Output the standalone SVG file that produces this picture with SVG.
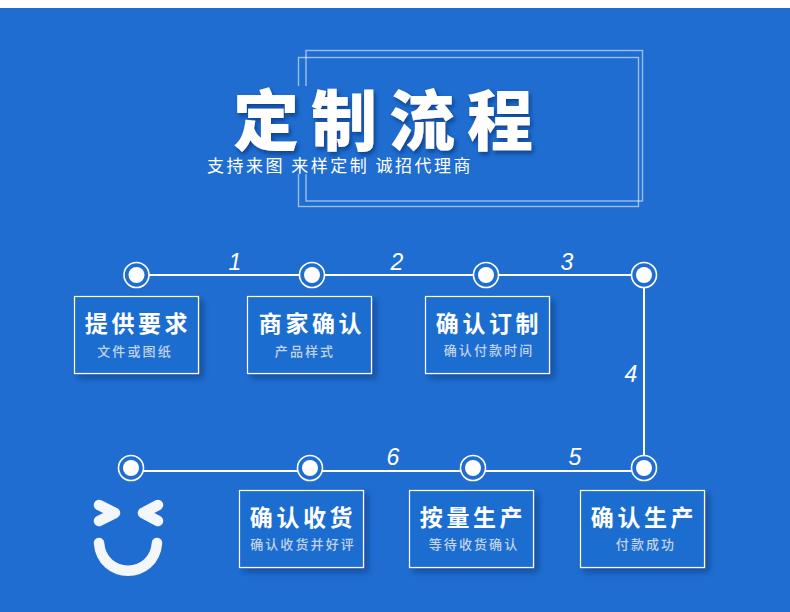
<svg xmlns="http://www.w3.org/2000/svg" width="790" height="612" viewBox="0 0 790 612">
<defs>
<filter id="ts" x="-10%" y="-10%" width="125%" height="130%"><feDropShadow dx="2" dy="3" stdDeviation="2" flood-color="#0b3f8c" flood-opacity="0.95"/></filter>
<filter id="bs" x="-10%" y="-10%" width="125%" height="130%"><feDropShadow dx="4" dy="4" stdDeviation="3" flood-color="#0f3f85" flood-opacity="0.7"/></filter>
</defs>
<style>
text{font-family:"Noto Sans CJK SC","Noto Sans",sans-serif;fill:#fff}
.frame{fill:none;stroke:#fff;stroke-opacity:.55;stroke-width:1.4}
.box{fill:#1f6dd0;stroke:#fff;stroke-width:1.2;filter:url(#bs)}
.h{font-size:23px;font-weight:700;letter-spacing:3.6px;text-anchor:middle}
.s{font-size:13px;font-weight:500;letter-spacing:2.1px;text-anchor:middle;fill:#c3d3ea}
.num{font-family:"Liberation Sans",sans-serif;font-style:italic;font-size:23px;text-anchor:middle}
.line{fill:none;stroke:#fff;stroke-width:2}
.ring{fill:#1f6dd0;stroke:#fff;stroke-width:1.6}
.dot{fill:#fff}
</style>
<rect width="790" height="612" fill="#1f6dd0"/>
<rect width="790" height="8" fill="#fff"/>
<g id="frames">
<rect class="frame" x="306" y="50.5" width="336.5" height="150.5"/>
<rect class="frame" x="298.5" y="57.5" width="340" height="149"/>
<rect x="285" y="86" width="40" height="88" fill="#1f6dd0"/>
</g>
<g id="title">
<text x="233" y="145" font-size="66" font-weight="900" letter-spacing="12" filter="url(#ts)">定制流程</text>
<text x="207" y="172" font-size="17" letter-spacing="2.5">支持来图 来样定制 诚招代理商</text>
</g>
<g id="connectors">
<path class="line" d="M136.5 275H644V468"/>
<path class="line" d="M131 471H644V468"/>
</g>
<g id="labels">
<text class="num" x="235" y="270">1</text>
<text class="num" x="397" y="270">2</text>
<text class="num" x="567" y="270">3</text>
<text class="num" x="631" y="382">4</text>
<text class="num" x="575" y="465">5</text>
<text class="num" x="393" y="465">6</text>
</g>
<g id="circle1"><circle class="ring" cx="136.5" cy="275" r="12.5"/><circle class="dot" cx="136.5" cy="275" r="8"/></g>
<g id="circle2"><circle class="ring" cx="312" cy="275" r="12.5"/><circle class="dot" cx="312" cy="275" r="8"/></g>
<g id="circle3"><circle class="ring" cx="486" cy="275" r="12.5"/><circle class="dot" cx="486" cy="275" r="8"/></g>
<g id="circle4"><circle class="ring" cx="644" cy="275" r="12.5"/><circle class="dot" cx="644" cy="275" r="8"/></g>
<g id="circle5"><circle class="ring" cx="644" cy="468" r="12.5"/><circle class="dot" cx="644" cy="468" r="8"/></g>
<g id="circle6"><circle class="ring" cx="473" cy="468" r="12.5"/><circle class="dot" cx="473" cy="468" r="8"/></g>
<g id="circle7"><circle class="ring" cx="310" cy="468" r="12.5"/><circle class="dot" cx="310" cy="468" r="8"/></g>
<g id="circle8"><circle class="ring" cx="131" cy="468" r="12.5"/><circle class="dot" cx="131" cy="468" r="8"/></g>
<g id="node1"><rect class="box" x="74.5" y="296.5" width="124" height="77"/><text class="h" x="138" y="332">提供要求</text><text class="s" x="135" y="356">文件或图纸</text></g>
<g id="node2"><rect class="box" x="247.5" y="296.5" width="124" height="77"/><text class="h" x="312" y="332">商家确认</text><text class="s" x="305" y="356">产品样式</text></g>
<g id="node3"><rect class="box" x="425.5" y="296.5" width="124" height="77"/><text class="h" x="489" y="332">确认订制</text><text class="s" x="489" y="355">确认付款时间</text></g>
<g id="node4"><rect class="box" x="580.5" y="490.5" width="124" height="77"/><text class="h" x="644" y="526">确认生产</text><text class="s" x="646" y="549">付款成功</text></g>
<g id="node5"><rect class="box" x="409.5" y="490.5" width="124" height="77"/><text class="h" x="473" y="526">按量生产</text><text class="s" x="474" y="549">等待收货确认</text></g>
<g id="node6"><rect class="box" x="239.5" y="490.5" width="124" height="77"/><text class="h" x="303" y="526">确认收货</text><text class="s" x="303" y="549">确认收货并好评</text></g>
<g id="smile" fill="none" stroke="#f3f6fb" stroke-width="10.5" stroke-linecap="round" stroke-linejoin="round">
<path d="M99 505L115 513L99 521"/>
<path d="M158 505L143 513L158 521"/>
<path d="M99 543C102 580 154 580 157 543"/>
</g>
</svg>
